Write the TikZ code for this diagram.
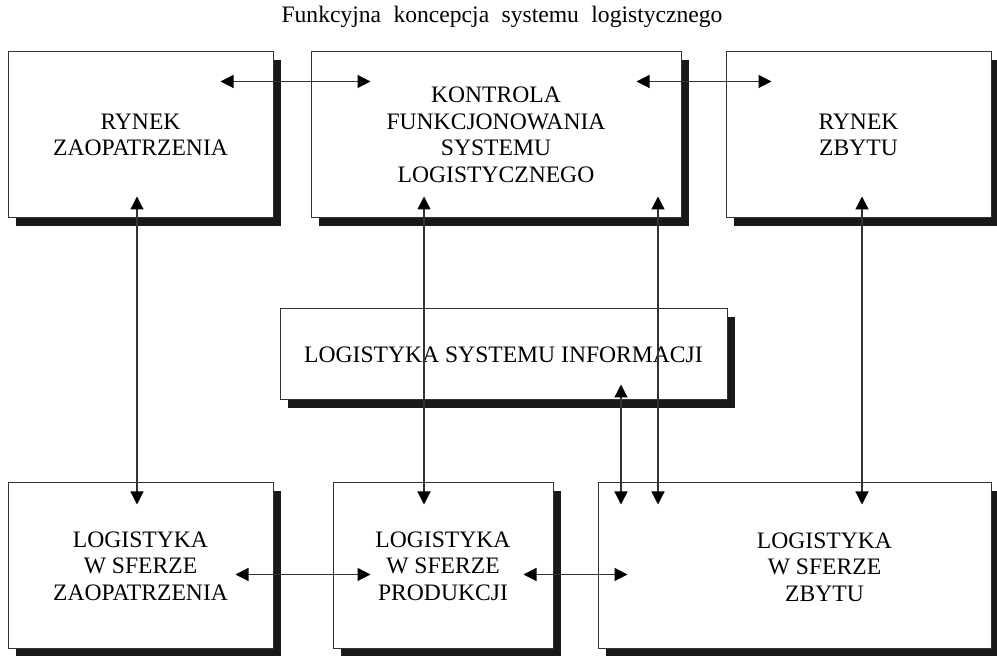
\documentclass[tikz,border=0pt]{standalone}
\usepackage{fontspec}
\setmainfont{Liberation Serif}
\newfontfamily\titlefont[WordSpace=2.1]{Liberation Serif}
\usetikzlibrary{calc,shadows,arrows.meta}

\begin{document}
\begin{tikzpicture}[x=0.5pt,y=-0.5pt,
	box/.style={draw=black!80,line width=0.5pt,fill=white,align=center,inner sep=0pt,
		font=\fontsize{11.8}{13.3}\selectfont,
		drop shadow={shadow xshift=4pt,shadow yshift=-4pt,fill=black!90,opacity=1}},
	arr/.style={draw=black!80,line width=0.6pt,
		{Triangle[length=6.5pt,width=6.5pt,color=black]}-{Triangle[length=6.5pt,width=6.5pt,color=black]}}]

	\useasboundingbox (0,0) rectangle (997,656);

	\node[anchor=base,font=\titlefont\fontsize{11.8}{13.3}\selectfont] (title) at (502,23) {Funkcyjna koncepcja systemu logistycznego};

	% gorny rzad
	\node[box,minimum width=132.5pt,minimum height=83pt] (rz) at (140.5,135) {RYNEK\\ZAOPATRZENIA};
	\node[box,minimum width=185pt,minimum height=83pt] (kon) at (496,135) {KONTROLA\\FUNKCJONOWANIA\\SYSTEMU\\LOGISTYCZNEGO};
	\node[box,minimum width=132.5pt,minimum height=83pt] (rzb) at (858.5,135) {RYNEK\\ZBYTU};

	\node[box,minimum width=223.5pt,minimum height=45.5pt] (inf) at (503.5,354.5) {LOGISTYKA SYSTEMU INFORMACJI};

	% dolny rzad
	\node[box,minimum width=132.5pt,minimum height=83pt] (lz) at (140.5,566) {LOGISTYKA\\W SFERZE\\ZAOPATRZENIA};
	\node[box,minimum width=110pt,minimum height=83pt] (lp) at (443,566) {LOGISTYKA\\W SFERZE\\PRODUKCJI};
	\node[box,minimum width=196.5pt,minimum height=83pt] (lzb) at (794.5,566) {};
	\node[align=center,font=\fontsize{11.8}{13.3}\selectfont] (lzb-txt) at ($(lzb)+(30,1)$) {LOGISTYKA\\W SFERZE\\ZBYTU};

	\draw[arr] ($(rz.north east)+(-53,30)$) -- ($(kon.north west)+(60,30)$);
	\draw[arr] ($(kon.north east)+(-45,30)$) -- ($(rzb.north west)+(46,30)$);
	\draw[arr] ($(rz.south)+(-3.5,-22)$) -- ($(lz.north)+(-3.5,22)$);
	\draw[arr] ($(kon.south)+(-72,-22)$) -- ($(lp.north)+(-19,22)$);
	\draw[arr] ($(kon.south)+(162,-22)$) -- ($(lzb.north)+(-136.5,22)$);
	\draw[arr] ($(rzb.south)+(3.5,-22)$) -- ($(lzb.north)+(67.5,22)$);
	\draw[arr] ($(inf.south)+(117.5,-16)$) -- ($(lzb.north)+(-173.5,22)$);
	\draw[arr] ($(lz.south east)+(-38,-75)$) -- ($(lp.south west)+(38,-75)$);
	\draw[arr] ($(lp.south east)+(-30,-75)$) -- ($(lzb.south west)+(30,-75)$);

\end{tikzpicture}
\end{document}
